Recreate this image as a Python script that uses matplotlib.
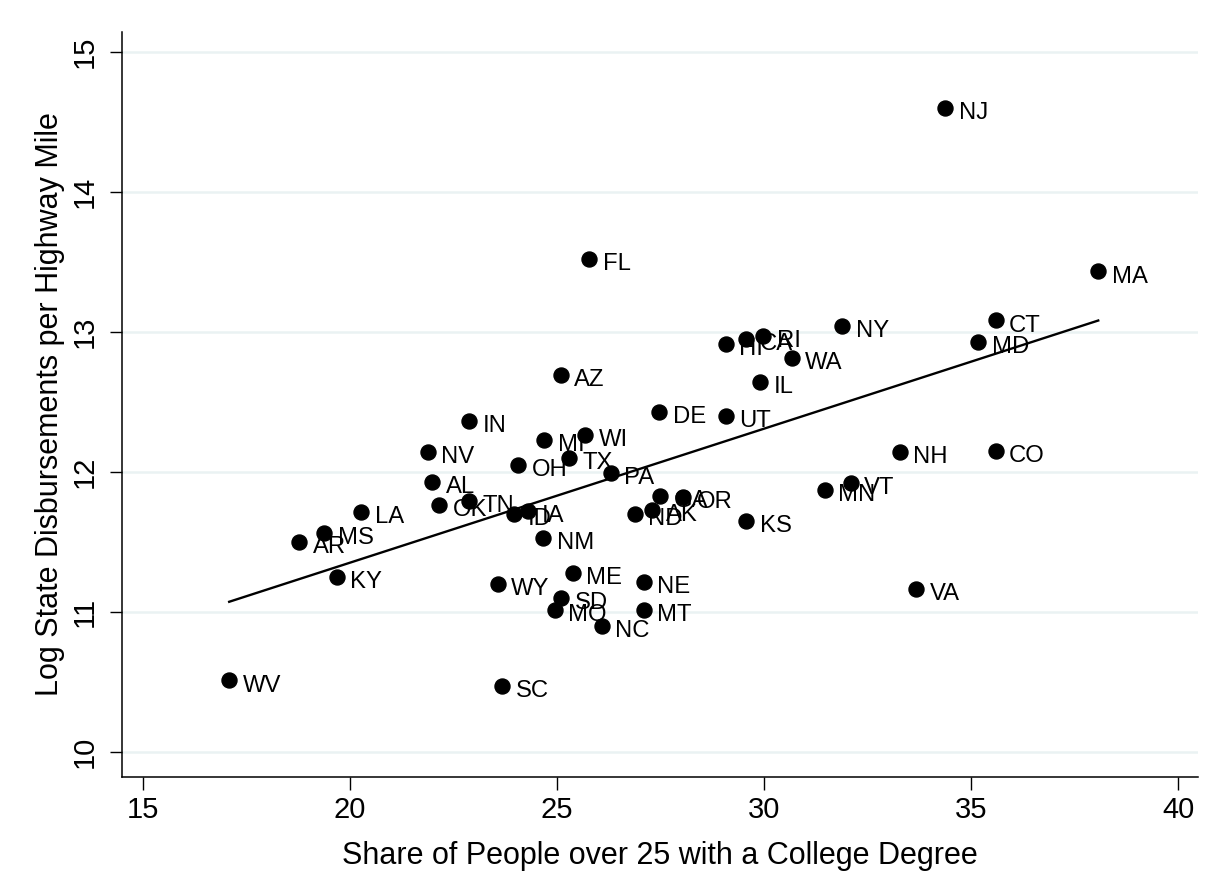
import numpy as np
import matplotlib
matplotlib.use("Agg")
import matplotlib.pyplot as plt

plt.rcParams['font.family'] = ['Liberation Sans', 'DejaVu Sans']

states = ["NJ", "FL", "MA", "CT", "MD", "NY", "HI", "CA", "RI", "WA",
          "IL", "AZ", "DE", "UT", "IN", "MI", "WI", "NV", "TX", "OH",
          "PA", "NH", "CO", "AL", "VT", "MN", "OK", "TN", "LA", "ID",
          "IA", "GA", "OR", "ND", "AK", "KS", "AR", "MS", "KY", "NM",
          "ME", "WY", "SD", "MO", "NC", "NE", "MT", "VA", "WV", "SC"]
college = [34.37, 25.78, 38.07, 35.59, 35.17, 31.89, 29.08, 29.57, 29.98, 30.67,
           29.90, 25.09, 27.47, 29.08, 22.88, 24.69, 25.68, 21.88, 25.29, 24.06,
           26.30, 33.28, 35.59, 21.98, 32.09, 31.47, 22.15, 22.88, 20.27, 23.96,
           24.30, 27.49, 28.05, 26.87, 27.30, 29.57, 18.77, 19.38, 19.68, 24.67,
           25.38, 23.57, 25.10, 24.95, 26.08, 27.09, 27.09, 33.67, 17.08, 23.67]
log_disb = [14.60, 13.52, 13.43, 13.08, 12.93, 13.04, 12.91, 12.95, 12.97, 12.81,
            12.64, 12.69, 12.43, 12.40, 12.36, 12.23, 12.26, 12.14, 12.10, 12.05,
            11.99, 12.14, 12.15, 11.93, 11.92, 11.87, 11.76, 11.79, 11.71, 11.70,
            11.72, 11.83, 11.82, 11.70, 11.73, 11.65, 11.50, 11.56, 11.25, 11.53,
            11.28, 11.20, 11.10, 11.01, 10.90, 11.21, 11.01, 11.16, 10.51, 10.47]

x_ticks = [15, 20, 25, 30, 35, 40]
y_ticks = [10, 11, 12, 13, 14, 15]

x = np.array(college)
y = np.array(log_disb)

fig = plt.figure(figsize=(12.31, 8.92), dpi=100)
ax = fig.add_axes([0.0994, 0.1289, 0.8738, 0.8352])

ax.set_xlim(14.5, 40.48)
ax.set_ylim(9.82, 15.14)

for yt in y_ticks:
    ax.axhline(yt, color='#eaf2f3', lw=1.8, zorder=0)

ax.plot(x, y, 'o', color='black', markersize=10.8, zorder=3)

slope, intercept = np.polyfit(x, y, 1)
xs = np.array([x.min(), x.max()])
ax.plot(xs, intercept + slope * xs, color='black', lw=1.7, zorder=2)

for s, xi, yi in zip(states, x, y):
    ax.annotate(s, (xi, yi), xytext=(9.7, -8.0), textcoords='offset points',
                ha='left', va='baseline', fontsize=17.2, color='black', zorder=4)

ax.set_xticks(x_ticks)
ax.set_yticks(y_ticks)
ax.tick_params(axis='both', direction='out', length=9, width=1.0, labelsize=21)
ax.tick_params(axis='x', pad=5)
ax.tick_params(axis='y', pad=8)
for lab in ax.get_yticklabels():
    lab.set_rotation(90)
    lab.set_va('center')

for side in ['top', 'right']:
    ax.spines[side].set_visible(False)
for side in ['left', 'bottom']:
    ax.spines[side].set_linewidth(1.1)

ax.set_xlabel("Share of People over 25 with a College Degree", fontsize=22, labelpad=12)
ax.set_ylabel("Log State Disbursements per Highway Mile", fontsize=22, labelpad=4)

fig.savefig("out.png", dpi=100, facecolor='white')
